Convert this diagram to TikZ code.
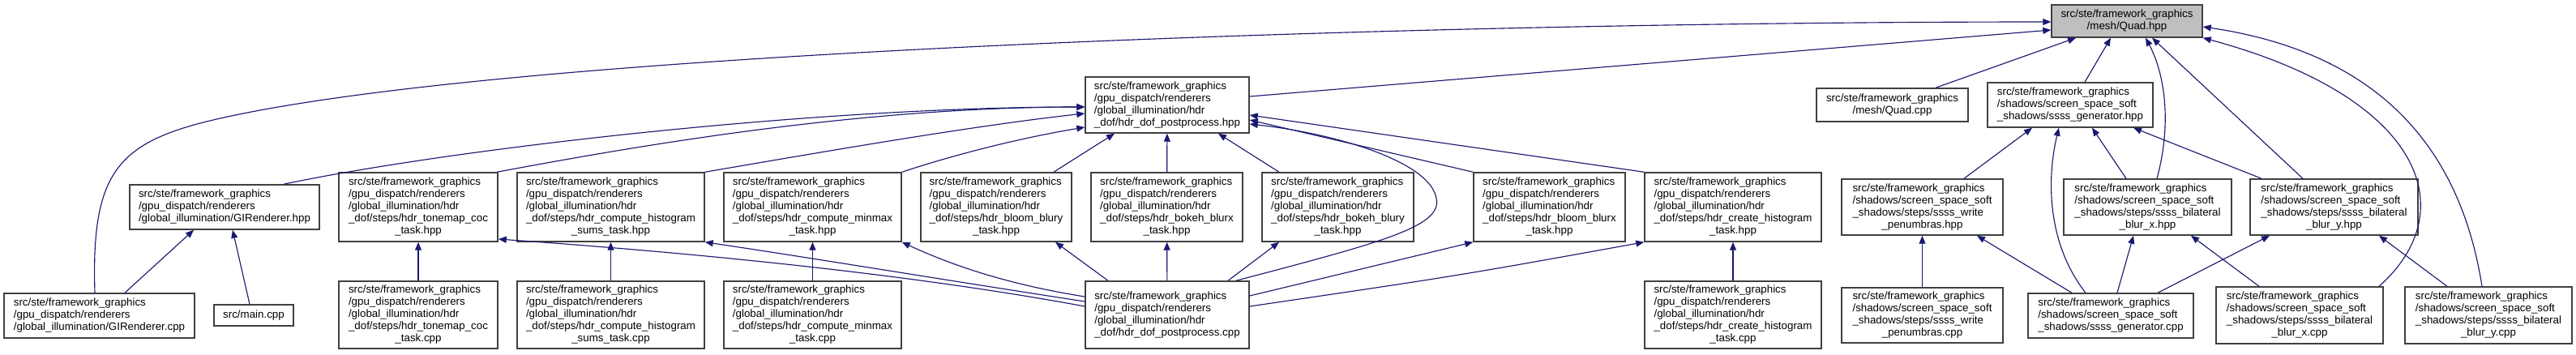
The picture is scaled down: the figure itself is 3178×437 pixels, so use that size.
\documentclass[tikz,border=0pt]{standalone}
\usepackage{fontspec}
\setmainfont{Liberation Sans}
\usetikzlibrary{arrows.meta}

\definecolor{linkblue}{HTML}{191970}
\definecolor{boxgray}{HTML}{404040}

% label of a file box: left-aligned lines, last line centred
\newcommand{\filelines}[2]{\begin{tabular}{@{}l@{}}#1\\\multicolumn{1}{@{}c@{}}{#2}\end{tabular}}

\begin{document}
\begin{tikzpicture}[
    x=0.75pt, y=-0.75pt,
    file/.style={
        draw=boxgray,
        line width=1.1pt,
        fill=white,
        inner sep=0pt,
        font=\fontsize{10}{11.25}\selectfont
    },
    wh/.style 2 args={minimum width=#1*0.75pt, minimum height=#2*0.75pt},
    incl/.style={
        draw=linkblue,
        line width=0.85pt,
        -{Triangle[length=7.5pt,width=6pt]}
    }
]
\useasboundingbox (0,0) rectangle (3178,437);

% top
\node[file, fill=black!25, wh={186}{40}] (quadh) at (2624,26)
    {\filelines{src/ste/framework\_graphics}{/mesh/Quad.hpp}};

% second row
\node[file, wh={202}{69}] (dofh) at (1440,129.5)
    {\filelines{src/ste/framework\_graphics\\/gpu\_dispatch/renderers\\/global\_illumination/hdr}{\_dof/hdr\_dof\_postprocess.hpp}};
\node[file, wh={187}{41}] (quadcpp) at (2334.5,129.5)
    {\filelines{src/ste/framework\_graphics}{/mesh/Quad.cpp}};
\node[file, wh={204}{55}] (ssgenh) at (2554,129.5)
    {\filelines{src/ste/framework\_graphics\\/shadows/screen\_space\_soft}{\_shadows/ssss\_generator.hpp}};

% third row
\node[file, wh={234}{55}] (gih) at (277,255.5)
    {\filelines{src/ste/framework\_graphics\\/gpu\_dispatch/renderers}{/global\_illumination/GIRenderer.hpp}};
\node[file, wh={196}{85}] (tonemaph) at (516,255.5)
    {\filelines{src/ste/framework\_graphics\\/gpu\_dispatch/renderers\\/global\_illumination/hdr\\\_dof/steps/hdr\_tonemap\_coc}{\_task.hpp}};
\node[file, wh={231}{85}] (histsumsh) at (753.5,255.5)
    {\filelines{src/ste/framework\_graphics\\/gpu\_dispatch/renderers\\/global\_illumination/hdr\\\_dof/steps/hdr\_compute\_histogram}{\_sums\_task.hpp}};
\node[file, wh={219}{85}] (minmaxh) at (1002.5,255.5)
    {\filelines{src/ste/framework\_graphics\\/gpu\_dispatch/renderers\\/global\_illumination/hdr\\\_dof/steps/hdr\_compute\_minmax}{\_task.hpp}};
\node[file, wh={186}{85}] (bloomyh) at (1229,255.5)
    {\filelines{src/ste/framework\_graphics\\/gpu\_dispatch/renderers\\/global\_illumination/hdr\\\_dof/steps/hdr\_bloom\_blury}{\_task.hpp}};
\node[file, wh={187}{85}] (bokehxh) at (1439.5,255.5)
    {\filelines{src/ste/framework\_graphics\\/gpu\_dispatch/renderers\\/global\_illumination/hdr\\\_dof/steps/hdr\_bokeh\_blurx}{\_task.hpp}};
\node[file, wh={187}{85}] (bokehyh) at (1650.5,255.5)
    {\filelines{src/ste/framework\_graphics\\/gpu\_dispatch/renderers\\/global\_illumination/hdr\\\_dof/steps/hdr\_bokeh\_blury}{\_task.hpp}};
\node[file, wh={187}{85}] (bloomxh) at (1911.5,255.5)
    {\filelines{src/ste/framework\_graphics\\/gpu\_dispatch/renderers\\/global\_illumination/hdr\\\_dof/steps/hdr\_bloom\_blurx}{\_task.hpp}};
\node[file, wh={218}{85}] (createhh) at (2138,255.5)
    {\filelines{src/ste/framework\_graphics\\/gpu\_dispatch/renderers\\/global\_illumination/hdr\\\_dof/steps/hdr\_create\_histogram}{\_task.hpp}};
\node[file, wh={199}{69}] (penumh) at (2371.5,255.5)
    {\filelines{src/ste/framework\_graphics\\/shadows/screen\_space\_soft\\\_shadows/steps/ssss\_write}{\_penumbras.hpp}};
\node[file, wh={207}{69}] (blurxh) at (2649.5,255.5)
    {\filelines{src/ste/framework\_graphics\\/shadows/screen\_space\_soft\\\_shadows/steps/ssss\_bilateral}{\_blur\_x.hpp}};
\node[file, wh={207}{69}] (bluryh) at (2879.5,255.5)
    {\filelines{src/ste/framework\_graphics\\/shadows/screen\_space\_soft\\\_shadows/steps/ssss\_bilateral}{\_blur\_y.hpp}};

% bottom row
\node[file, wh={235}{55}] (gicpp) at (122.5,389.5)
    {\filelines{src/ste/framework\_graphics\\/gpu\_dispatch/renderers}{/global\_illumination/GIRenderer.cpp}};
\node[file, wh={98}{26}] (maincpp) at (313,389) {src/main.cpp};
\node[file, wh={196}{83}] (tonemapc) at (516,388.5)
    {\filelines{src/ste/framework\_graphics\\/gpu\_dispatch/renderers\\/global\_illumination/hdr\\\_dof/steps/hdr\_tonemap\_coc}{\_task.cpp}};
\node[file, wh={231}{83}] (histsumsc) at (753.5,388.5)
    {\filelines{src/ste/framework\_graphics\\/gpu\_dispatch/renderers\\/global\_illumination/hdr\\\_dof/steps/hdr\_compute\_histogram}{\_sums\_task.cpp}};
\node[file, wh={219}{83}] (minmaxc) at (1002.5,388.5)
    {\filelines{src/ste/framework\_graphics\\/gpu\_dispatch/renderers\\/global\_illumination/hdr\\\_dof/steps/hdr\_compute\_minmax}{\_task.cpp}};
\node[file, wh={202}{83}] (dofc) at (1440,388.5)
    {\filelines{src/ste/framework\_graphics\\/gpu\_dispatch/renderers\\/global\_illumination/hdr}{\_dof/hdr\_dof\_postprocess.cpp}};
\node[file, wh={218}{83}] (createhc) at (2138,388.5)
    {\filelines{src/ste/framework\_graphics\\/gpu\_dispatch/renderers\\/global\_illumination/hdr\\\_dof/steps/hdr\_create\_histogram}{\_task.cpp}};
\node[file, wh={199}{68}] (penumc) at (2371.5,389)
    {\filelines{src/ste/framework\_graphics\\/shadows/screen\_space\_soft\\\_shadows/steps/ssss\_write}{\_penumbras.cpp}};
\node[file, wh={204}{55}] (ssgenc) at (2604,389.5)
    {\filelines{src/ste/framework\_graphics\\/shadows/screen\_space\_soft}{\_shadows/ssss\_generator.cpp}};
\node[file, wh={206}{70}] (blurxc) at (2837,389)
    {\filelines{src/ste/framework\_graphics\\/shadows/screen\_space\_soft\\\_shadows/steps/ssss\_bilateral}{\_blur\_x.cpp}};
\node[file, wh={206}{70}] (bluryc) at (3070,389)
    {\filelines{src/ste/framework\_graphics\\/shadows/screen\_space\_soft\\\_shadows/steps/ssss\_bilateral}{\_blur\_y.cpp}};

% includes of Quad.hpp
\draw[incl] (gicpp.north -| 117,0) .. controls (112,200) and (150,170) .. (300,140)
    .. controls (700,60) and (1800,27) .. (quadh.west |- 0,27);
\draw[incl] (dofh.east |- 0,119) -- (quadh.west |- 0,37);
\draw[incl] (quadcpp.north -| 2388,0) -- (quadh.south -| 2561,0);
\draw[incl] (ssgenh.north -| 2572,0) -- (quadh.south -| 2604,0);
\draw[incl] (blurxh.north -| 2661,0) .. controls (2680,150) and (2670,90) .. (quadh.south -| 2647,0);
\draw[incl] (bluryh.north -| 2841,0) -- (quadh.south -| 2655,0);
\draw[incl] (blurxc.north -| 2935,0) .. controls (3040,260) and (2990,120) .. (quadh.south east);
\draw[incl] (bluryc.north -| 3062,0) .. controls (3030,150) and (2900,60) .. (quadh.east |- 0,33);

% includes of ssss_generator.hpp
\draw[incl] (penumh.north -| 2423,0) -- (ssgenh.south -| 2507,0);
\draw[incl] (ssgenc.north -| 2573,0) .. controls (2525,300) and (2525,220) .. (ssgenh.south -| 2540,0);
\draw[incl] (blurxh.north -| 2623,0) -- (ssgenh.south -| 2581,0);
\draw[incl] (bluryh.north -| 2790,0) -- (ssgenh.south -| 2632,0);

% shadow steps
\draw[incl] (penumc) -- (penumh);
\draw[incl] (ssgenc.north -| 2556,0) -- (penumh.south -| 2439,0);
\draw[incl] (ssgenc.north -| 2612,0) -- (blurxh.south -| 2632,0);
\draw[incl] (blurxc.north -| 2787,0) -- (blurxh.south -| 2703,0);
\draw[incl] (ssgenc.north -| 2662,0) -- (bluryh.south -| 2800,0);
\draw[incl] (bluryc.north -| 3019,0) -- (bluryh.south -| 2935,0);

% GIRenderer
\draw[incl] (gicpp.north -| 154,0) -- (gih.south -| 239,0);
\draw[incl] (maincpp.north -| 308,0) -- (gih.south -| 287,0);

% includes of hdr_dof_postprocess.hpp
\draw[incl] (gih.north -| 350,0) .. controls (550,185) and (1000,132) .. (dofh.west |- 0,132);
\draw[incl] (tonemaph.north -| 613,0) .. controls (760,185) and (1050,132) .. (dofh.west |- 0,132);
\draw[incl] (histsumsh.north east) .. controls (1000,190) and (1200,155) .. (dofh.west |- 0,140);
\draw[incl] (minmaxh.north east) .. controls (1180,190) and (1260,170) .. (dofh.west |- 0,157);
\draw[incl] (bloomyh.north -| 1300,0) -- (dofh.south -| 1375,0);
\draw[incl] (bokehxh) -- (dofh);
\draw[incl] (bokehyh.north -| 1578,0) -- (dofh.south -| 1503,0);
\draw[incl] (bloomxh.north west) -- (dofh.east |- 0,148);
\draw[incl] (createhh.north west) -- (dofh.east |- 0,142);
\draw[incl] (dofc.north -| 1525,0) .. controls (1700,300) and (1780,280) .. (1772,245)
    .. controls (1765,200) and (1650,165) .. (dofh.east |- 0,153);

% hdr_dof steps
\draw[incl] (tonemapc) -- (tonemaph);
\draw[incl] (histsumsc) -- (histsumsh);
\draw[incl] (minmaxc) -- (minmaxh);
\draw[incl] (createhc) -- (createhh);
\draw[incl] (dofc.west |- 0,378) .. controls (1150,343) and (900,315) .. (tonemaph.east |- 0,295);
\draw[incl] (dofc.west |- 0,372) .. controls (1150,343) and (1000,318) .. (histsumsh.south east);
\draw[incl] (dofc.west |- 0,366) .. controls (1250,352) and (1180,330) .. (minmaxh.south east);
\draw[incl] (dofc.north -| 1367,0) -- (bloomyh.south -| 1302,0);
\draw[incl] (dofc) -- (bokehxh);
\draw[incl] (dofc.north -| 1515,0) -- (bokehyh.south -| 1578,0);
\draw[incl] (dofc.east |- 0,365) -- (bloomxh.south west);
\draw[incl] (dofc.east |- 0,378) .. controls (1800,340) .. (createhh.south west);

\end{tikzpicture}
\end{document}
